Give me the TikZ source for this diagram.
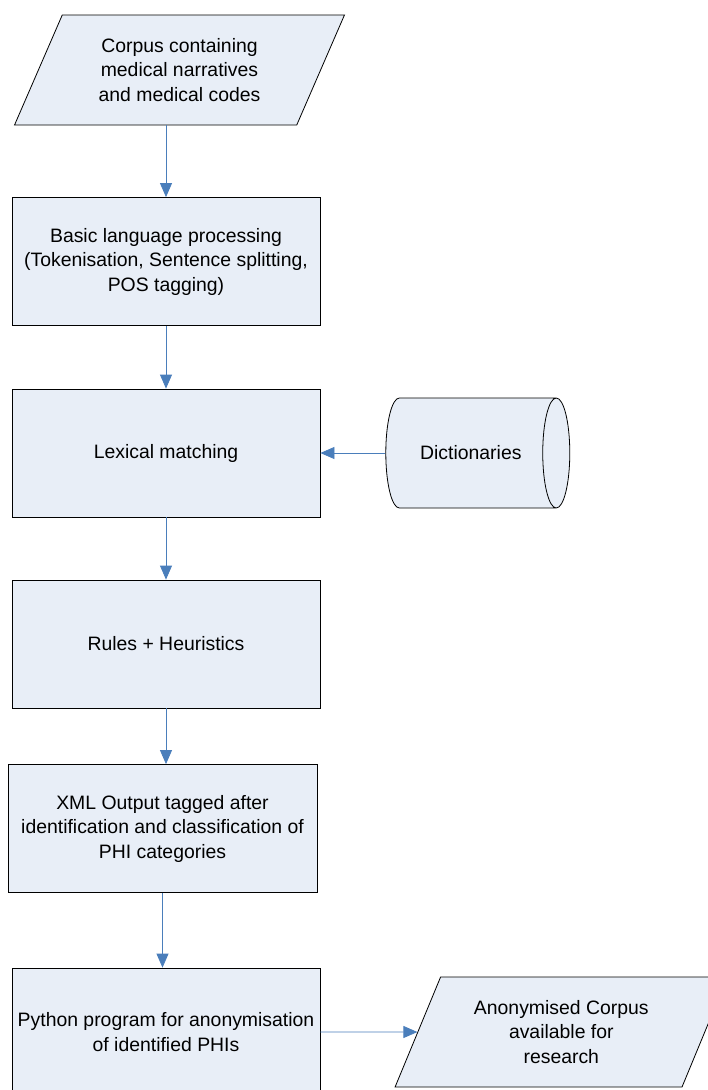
\documentclass[tikz,border=0pt]{standalone}
\usepackage{fontspec}
\setmainfont{Liberation Sans}
\usetikzlibrary{positioning,shapes.geometric,arrows.meta}
\definecolor{boxfill}{RGB}{232,238,247}
\definecolor{flowblue}{RGB}{74,126,187}
\tikzset{
  procbox/.style={draw,fill=boxfill,align=center,minimum width=308pt,minimum height=128pt,inner sep=0pt},
  iobox/.style={draw,fill=boxfill,align=center,trapezium,trapezium left angle=62.5,trapezium right angle=117.5,
    trapezium stretches=true,minimum width=331pt,minimum height=110pt,inner sep=0pt},
  store/.style={draw,fill=boxfill,cylinder,shape aspect=1.9,minimum width=110pt,minimum height=184pt,inner sep=0pt},
  flow/.style={draw=flowblue,line width=0.8pt,-{Triangle[length=14pt,width=12pt,fill=flowblue]}}
}

\begin{document}
\begin{tikzpicture}[x=1pt,y=-1pt,line width=0.8pt,font=\fontsize{19.4}{24.5}\selectfont]
  \useasboundingbox (0,0) rectangle (708,1090);

  \node[iobox] (corpus) at (179.5,70) {Corpus containing\\medical narratives\\and medical codes};
  \node[procbox] (basic) at (166,261.5) {Basic language processing\\(Tokenisation, Sentence splitting,\\POS tagging)};
  \node[procbox] (lexical) at (166,453) {Lexical matching};
  \node[store,right=65pt of lexical] (dict) {Dictionaries};
  \node[procbox] (rules) at (166,644) {Rules + Heuristics};
  \node[procbox,minimum width=309pt] (xml) at (162.5,828.5) {XML Output tagged after\\identification and classification of\\PHI categories};
  \node[procbox] (python) at (166,1032) {Python program for anonymisation\\of identified PHIs};
  \node[iobox,minimum width=333pt,right=97pt of python] (anon) {Anonymised Corpus\\available for\\research};

  \draw[flow] (basic.north |- corpus.south) -- (basic.north);
  \draw[flow] (basic) -- (lexical);
  \draw[flow] (dict) -- (lexical);
  \draw[flow] (lexical) -- (rules);
  \draw[flow] (rules.south) -- (rules.south |- xml.north);
  \draw[flow] (xml.south) -- (xml.south |- python.north);
  \draw[flow] (python) -- (anon);
\end{tikzpicture}
\end{document}
